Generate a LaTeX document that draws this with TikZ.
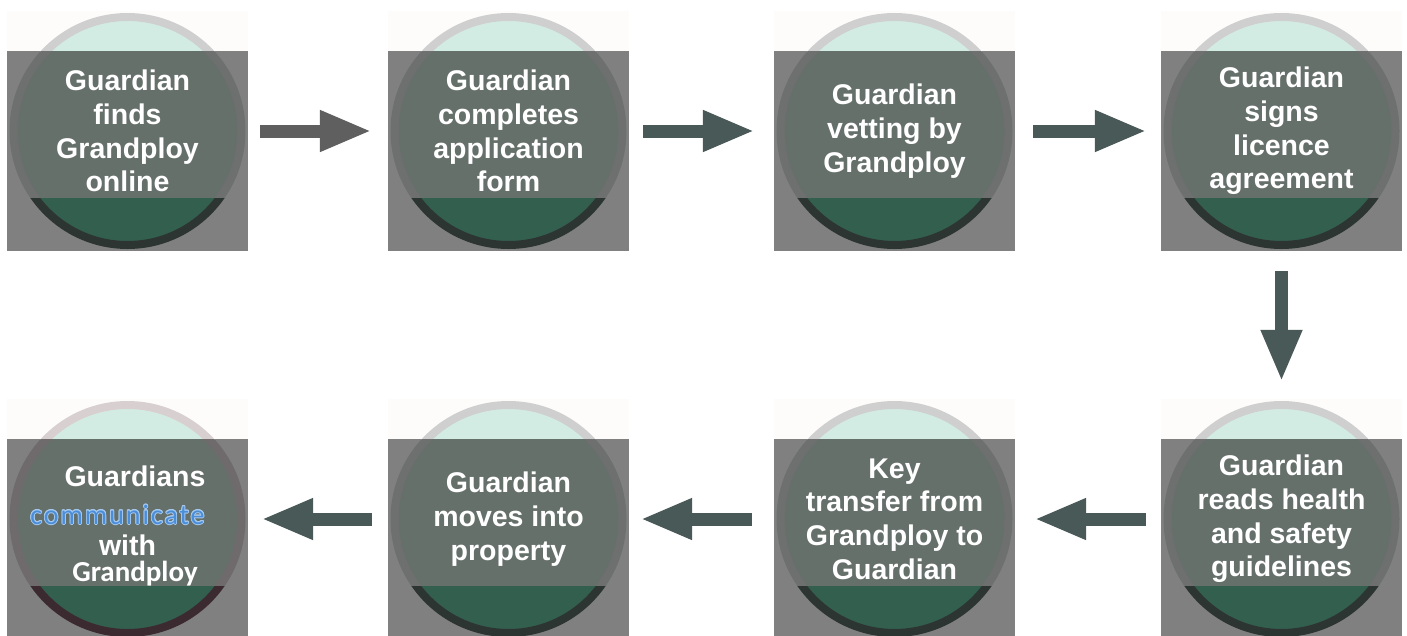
\documentclass[tikz,border=0pt]{standalone}
\usepackage{fontspec}
\setmainfont{Liberation Sans}
\newfontfamily\calib{Carlito}
\newfontfamily\calibwide{Carlito}[LetterSpace=7]
\usepackage{contour}
\contourlength{0.8pt}
\usetikzlibrary{arrows.meta}

\definecolor{stripc}{HTML}{FDFCFA}
\definecolor{tilegrey}{HTML}{808080}
\definecolor{mint}{HTML}{D3ECE3}
\definecolor{midc}{HTML}{66706B}
\definecolor{bandc}{HTML}{335F4F}
\definecolor{ringtop}{HTML}{CFCFCF}
\definecolor{ringmid}{HTML}{6E6F6F}
\definecolor{ringbot}{HTML}{2D3533}
\definecolor{arrowgrey}{HTML}{5F5F5F}
\definecolor{arrowslate}{HTML}{485957}
\definecolor{linkblue}{HTML}{4A8EDA}
\definecolor{glowblue}{HTML}{A6C9EE}

% one step: [text shift], name, left, top, text
\newcommand{\steptile}[5][]{%
  \fill[stripc] (#3,#4) rectangle ++(241,40);
  \fill[tilegrey] (#3,#4+40) rectangle ++(241,200);
  \begin{scope}
    \clip (#3,#4) rectangle ++(241,40);
    \draw[ringtop,line width=8pt,fill=mint] (#3+120.5,#4+120) circle[radius=114];
  \end{scope}
  \begin{scope}
    \clip (#3,#4+40) rectangle ++(241,147);
    \draw[ringmid,line width=8pt,fill=midc] (#3+120.5,#4+120) circle[radius=114];
  \end{scope}
  \begin{scope}
    \clip (#3,#4+187) rectangle ++(241,53);
    \draw[ringbot,line width=8pt,fill=bandc] (#3+120.5,#4+120) circle[radius=114];
  \end{scope}
  \node[tilebox] (#2) at (#3+120.5,#4+120) {};
  \node[tiletext,#1] (#2text) at (#2) {#5};
}

\begin{document}
\begin{tikzpicture}[x=1pt,y=-1pt,
  tilebox/.style={minimum width=241pt,minimum height=240pt,inner sep=0pt},
  tiletext/.style={text=white,align=center,inner sep=0pt,
    font=\bfseries\fontsize{28.5}{33.7}\selectfont},
  flow/.style={arrowslate,line width=13pt,-{Triangle[length=52pt,width=38pt]}}]

\fill[white] (0,0) rectangle (1407,635);
\useasboundingbox (0,0) rectangle (1407,635);

% top row
\steptile{find}{7}{11}{Guardian\\finds\\Grandploy\\online}
\steptile{apply}{388}{11}{Guardian\\completes\\application\\form}
\steptile{vet}{774}{11}{Guardian\\vetting by\\Grandploy}
\steptile{sign}{1161}{11}{Guardian\\signs\\licence\\agreement}

% bottom row
\steptile{safety}{1161}{399}{Guardian\\reads health\\and safety\\guidelines}
\steptile{keys}{774}{399}{Key\\transfer from\\Grandploy to\\Guardian}
\steptile{movein}{388}{399}{Guardian\\moves into\\property}
\definecolor{ringtop}{HTML}{D8CFD0}
\definecolor{ringmid}{HTML}{6F6A6B}
\definecolor{ringbot}{HTML}{3B2B30}
\steptile[yshift=-7pt]{talk}{7}{399}{\kern15pt Guardians\\[4pt]
  {\calibwide\mdseries\fontsize{28}{28}\selectfont\textcolor{linkblue}{\contour{glowblue}{communicate}}}\kern20pt\mbox{}\\[-2pt]
  with\\[-8pt]
  \kern15pt{\calib\fontsize{29}{29}\selectfont Grandploy}}

% arrows
\draw[flow,arrowgrey,shorten <=12pt,shorten >=16pt] (find) -- (apply);
\draw[flow,shorten <=14pt,shorten >=19pt] (apply) -- (vet);
\draw[flow,shorten <=18pt,shorten >=14pt] (vet) -- (sign);
\draw[flow,shorten <=20pt,shorten >=17pt] (sign) -- (safety);
\draw[flow,shorten <=15pt,shorten >=19pt] (safety) -- (keys);
\draw[flow,shorten <=22pt,shorten >=11pt] (keys) -- (movein);
\draw[flow,shorten <=16pt,shorten >=13pt] (movein) -- (talk);

\end{tikzpicture}
\end{document}
